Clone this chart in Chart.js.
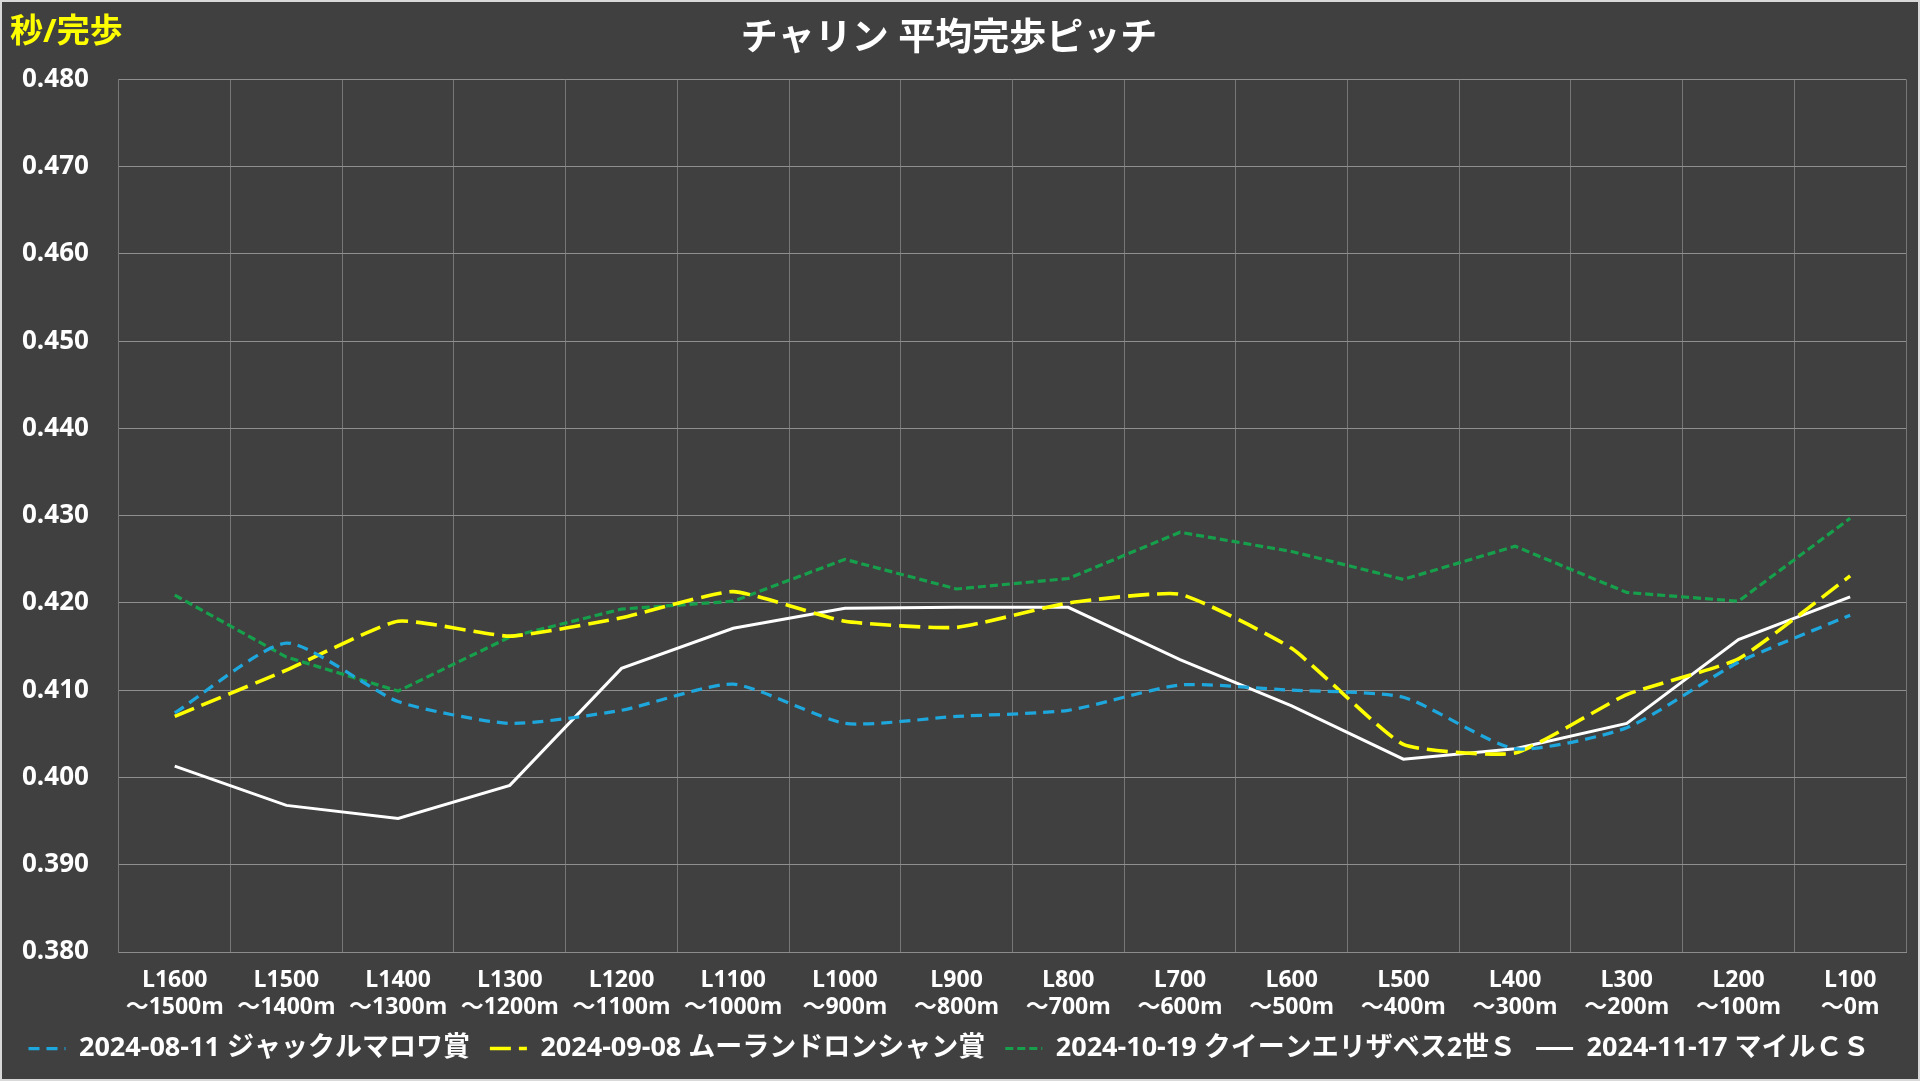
<!DOCTYPE html>
<html lang="ja">
<head>
  <meta charset="UTF-8" />
  <title>チャリン 平均完歩ピッチ</title>
  <script src="https://cdn.jsdelivr.net/npm/chart.js"></script>
  <style>
    html, body { margin: 0; padding: 0; background: #404040; }
    #wrap { width: 1920px; height: 1081px; }
  </style>
</head>
<body>
  <div id="wrap"><canvas id="pitchChart" width="1920" height="1081"></canvas></div>

  <script>
    // sections (two-line labels)
    const sectionFrom = ['L1600', 'L1500', 'L1400', 'L1300', 'L1200', 'L1100', 'L1000', 'L900',
                         'L800', 'L700', 'L600', 'L500', 'L400', 'L300', 'L200', 'L100'];
    const sectionTo = ['～1500m', '～1400m', '～1300m', '～1200m', '～1100m', '～1000m', '～900m', '～800m',
                       '～700m', '～600m', '～500m', '～400m', '～300m', '～200m', '～100m', '～0m'];

    const race0811 = [0.4074, 0.4154, 0.4087, 0.4062, 0.4077, 0.4107, 0.4062, 0.4070,
                      0.4077, 0.4106, 0.4100, 0.4092, 0.4033, 0.4057, 0.4132, 0.4186];
    const race0908 = [0.4070, 0.4123, 0.4179, 0.4162, 0.4183, 0.4213, 0.4179, 0.4172,
                      0.4200, 0.4210, 0.4148, 0.4038, 0.4028, 0.4095, 0.4136, 0.4231];
    const race1019 = [0.4209, 0.4138, 0.4099, 0.4161, 0.4193, 0.4202, 0.4250, 0.4216,
                      0.4228, 0.4281, 0.4259, 0.4227, 0.4265, 0.4212, 0.4202, 0.4297];
    const race1117 = [0.4013, 0.3968, 0.3953, 0.3991, 0.4125, 0.4171, 0.4194, 0.4195,
                      0.4195, 0.4135, 0.4082, 0.4021, 0.4033, 0.4062, 0.4158, 0.4207];

    const labels = sectionFrom.map((s, i) => [s, sectionTo[i]]);

    const fontFamily = "'Open Sans', 'Noto Sans CJK JP', sans-serif";
    Chart.defaults.font.family = fontFamily;
    Chart.defaults.color = '#ffffff';

    const backdrop = {
      id: 'backdrop',
      beforeDraw(chart) {
        const ctx = chart.ctx;
        ctx.save();
        ctx.fillStyle = '#404040';
        ctx.fillRect(0, 0, chart.width, chart.height);
        ctx.strokeStyle = '#d9d9d9';
        ctx.lineWidth = 2;
        ctx.strokeRect(1, 1, chart.width - 2, chart.height - 2);
        ctx.restore();
      },
      afterDraw(chart) {
        // unit label top-left
        const ctx = chart.ctx;
        ctx.save();
        ctx.fillStyle = '#ffff00';
        ctx.font = "bold 33px " + fontFamily;
        ctx.textBaseline = 'middle';
        ctx.fillText('秒/完歩', 10, 33);
        ctx.restore();
      }
    };

    const line = (label, data, color, width, dash, tension) => ({
      label, data,
      borderColor: color,
      backgroundColor: color,
      borderWidth: width,
      borderDash: dash,
      tension,
      pointRadius: 0,
      fill: false
    });

    new Chart(document.getElementById('pitchChart'), {
      type: 'line',
      data: {
        labels,
        datasets: [
          line('2024-08-11 ジャックルマロワ賞', race0811, '#1ea7dd', 3.25, [11, 7], 0.2),
          line('2024-09-08 ムーランドロンシャン賞', race0908, '#ffff00', 3.6, [21, 8], 0.15),
          line('2024-10-19 クイーンエリザベス2世Ｓ', race1019, '#16a04c', 3.2, [8, 4], 0),
          line('2024-11-17 マイルＣＳ', race1117, '#ffffff', 3, [], 0)
        ]
      },
      plugins: [backdrop],
      options: {
        responsive: false,
        animation: false,
        layout: { padding: { left: -8, right: 14, top: 0, bottom: 9 } },
        plugins: {
          title: {
            display: true,
            text: 'チャリン 平均完歩ピッチ',
            color: '#ffffff',
            font: { size: 37, weight: 'bold' },
            padding: { top: 17, bottom: 18 }
          },
          legend: {
            position: 'bottom',
            labels: {
              color: '#ffffff',
              font: { size: 27, weight: 'bold' },
              usePointStyle: true,
              pointStyle: 'line',
              pointStyleWidth: 37,
              padding: 20,
              generateLabels(chart) {
                const items = Chart.defaults.plugins.legend.labels.generateLabels(chart);
                items.forEach(it => {
                  const ds = chart.data.datasets[it.datasetIndex];
                  it.lineDash = ds.borderDash;
                  it.lineWidth = ds.borderWidth;
                  it.strokeStyle = ds.borderColor;
                });
                return items;
              }
            }
          },
          tooltip: { enabled: false }
        },
        scales: {
          x: {
            offset: true,
            grid: { offset: true, color: '#767676', lineWidth: 1, drawTicks: false },
            border: { color: '#8c8c8c' },
            ticks: {
              color: '#ffffff',
              font: { size: 23, weight: 'bold', lineHeight: 1.17 },
              padding: 15,
              maxRotation: 0,
              autoSkip: false
            },
            // two-line labels: keep only the room they really need
            afterFit: scale => { scale.height = 63; }
          },
          y: {
            min: 0.38,
            max: 0.48,
            grid: { color: '#8f8f8f', lineWidth: 1, drawTicks: false },
            border: { color: '#767676' },
            ticks: {
              stepSize: 0.01,
              color: '#ffffff',
              font: { size: 26, weight: 'bold' },
              padding: 30,
              callback: v => v.toFixed(3)
            }
          }
        }
      }
    });
  </script>
</body>
</html>
